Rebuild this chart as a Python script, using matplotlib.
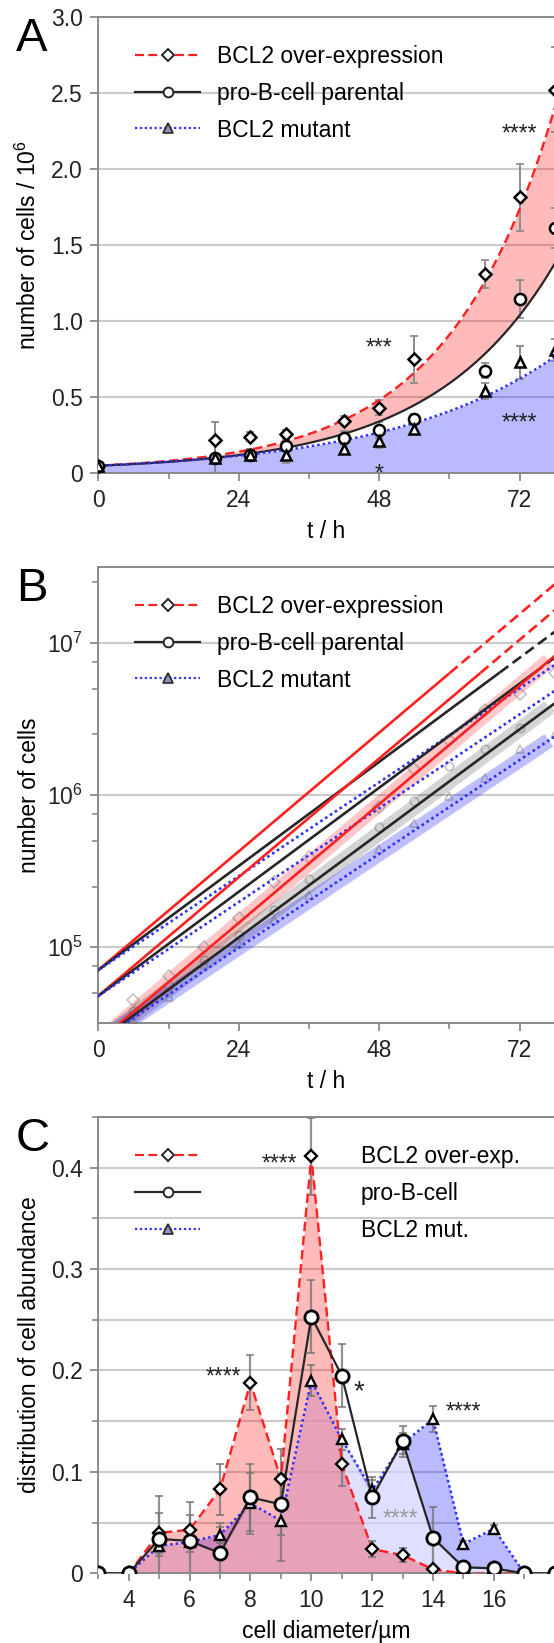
import numpy as np
import matplotlib
matplotlib.use('Agg')
import matplotlib.pyplot as plt
from matplotlib.lines import Line2D
from matplotlib.ticker import FixedLocator, FuncFormatter, LogLocator, NullFormatter

plt.rcParams['font.family'] = ['Liberation Sans', 'DejaVu Sans']
plt.rcParams['mathtext.fontset'] = 'custom'
plt.rcParams['mathtext.rm'] = 'Liberation Sans'
plt.rcParams['mathtext.it'] = 'Liberation Sans:italic'
plt.rcParams['font.size'] = 16.5

# ---- panel A: growth curves (cells / 10^6)
t_a = [0, 20, 26, 32, 42, 48, 54, 66, 72, 78]
over_a = [0.05, 0.22, 0.24, 0.255, 0.345, 0.43, 0.75, 1.31, 1.815, 2.52]
over_a_err = [0.01, 0.12, 0.03, 0.03, 0.03, 0.05, 0.155, 0.09, 0.22, 0.28]
parental_a = [0.05, 0.10, 0.12, 0.18, 0.235, 0.284, 0.357, 0.674, 1.145, 1.61]
parental_a_err = [0.005, 0.10, 0.04, 0.03, 0.04, 0.05, 0.03, 0.05, 0.125, 0.13]
mutant_a = [0.05, 0.10, 0.12, 0.12, 0.158, 0.214, 0.289, 0.541, 0.729, 0.81]
mutant_a_err = [0.005, 0.02, 0.04, 0.055, 0.03, 0.05, 0.04, 0.05, 0.11, 0.07]
# fit N = a*exp(k t) + b
fit_over_a = (0.034, 0.0545, 0.016)
fit_parental_a = (0.0322, 0.048, 0.0178)
fit_mutant_a = (0.05, 0.035, 0.0)

# ---- panel B: log-linear fits (log10 cells per h) and three start levels
rate_b = {'over': 0.0325, 'parental': 0.0285, 'mutant': 0.0257}
start_b = [4.85, 4.68, 4.38]
t_b = [6, 12, 18, 24, 30, 36, 48, 54, 60, 66, 72, 78]
over_b = [4.5e4, 6.5e4, 1.0e5, 1.55e5, 2.7e5, 3.9e5, 8.3e5, 1.48e6, 2.3e6, 3.6e6, 4.6e6, 6.3e6]
parental_b = [3.8e4, 5.6e4, 8.3e4, 1.2e5, 1.75e5, 2.8e5, 6.2e5, 9.1e5, 1.55e6, 2.0e6, 2.75e6, 3.8e6]
mutant_b = [3.3e4, 4.7e4, 7.7e4, 1.05e5, 1.5e5, 2.2e5, 4.4e5, 6.5e5, 9.8e5, 1.3e6, 2.0e6, 2.5e6]

# ---- panel C: size distribution
d_c = [3, 4, 5, 6, 7, 8, 9, 10, 11, 12, 13, 14, 15, 16, 17, 18]
over_c = [0, 0, 0.040, 0.043, 0.083, 0.188, 0.093, 0.411, 0.108, 0.024, 0.018, 0.004, 0, 0, 0, 0]
over_c_err = [0, 0, 0.02, 0.015, 0.025, 0.027, 0.03, 0.038, 0.022, 0.008, 0.007, 0.003, 0.002, 0.001, 0, 0]
parental_c = [0, 0, 0.034, 0.032, 0.020, 0.075, 0.068, 0.253, 0.195, 0.075, 0.130, 0.035, 0.006, 0.005, 0, 0]
parental_c_err = [0, 0, 0.042, 0.038, 0.03, 0.033, 0.03, 0.036, 0.031, 0.02, 0.015, 0.03, 0.003, 0.003, 0, 0]
mutant_c = [0, 0, 0.027, 0.031, 0.038, 0.069, 0.052, 0.190, 0.132, 0.082, 0.128, 0.152, 0.029, 0.044, 0, 0]
mutant_c_err = [0, 0, 0.01, 0.01, 0.008, 0.03, 0.04, 0.015, 0.01, 0.01, 0.01, 0.013, 0.003, 0.004, 0, 0]

RED = '#ff2020'
BLK = '#262626'
BLU = '#3030ff'
GRID = '#cbcbcb'
SPINE = '#8a8a8a'
ERR = '#8c8c8c'
DASH = (0, (4, 2))
DOT = (0, (1, 1.2))

W_PX, H_PX = 554, 1643
fig = plt.figure(figsize=(W_PX / 100, H_PX / 100), dpi=100)
left = 98.3 / W_PX
width = 456.5 / W_PX
height = 456.6 / H_PX
axA = fig.add_axes([left, (H_PX - 473.3) / H_PX, width, height])
axB = fig.add_axes([left, (H_PX - 1023.3) / H_PX, width, height])
axC = fig.add_axes([left, (H_PX - 1573.4) / H_PX, width, height])


def style(ax):
    for s in ax.spines.values():
        s.set_color(SPINE)
        s.set_linewidth(1.4)
    ax.tick_params(which='major', direction='out', length=6, width=1.3, color=SPINE,
                   labelsize=16.5, labelcolor='#222222', pad=5)
    ax.tick_params(which='minor', direction='out', length=4, width=1.2, color=SPINE)
    ax.tick_params(top=False, right=False, which='both')
    ax.set_axisbelow(True)
    ax.yaxis.set_label_coords(-0.126, 0.5)
    ax.xaxis.set_label_coords(0.5, -0.103)


def stars(ax, x, y, s, size=16.5, color='#222222'):
    ax.annotate(s, xy=(x, y), xytext=(0, -0.58 * size), textcoords='offset points',
                ha='center', va='baseline', fontsize=size, color=color, zorder=6)


def legend(ax, labels, textpad):
    hs = [Line2D([], [], color=RED, ls=DASH, lw=1.6, marker='D', ms=6, mfc='white', mec=BLK, mew=1.4),
          Line2D([], [], color=BLK, ls='-', lw=1.6, marker='o', ms=7, mfc='white', mec=BLK, mew=1.4),
          Line2D([], [], color=BLU, ls=DOT, lw=1.6, marker='^', ms=6.5, mfc='#9090c0', mec=BLK, mew=1.2)]
    ax.legend(hs, labels, loc='upper left', bbox_to_anchor=(0.0804, 0.939), frameon=False,
              borderpad=0, borderaxespad=0, handlelength=2.85, handletextpad=textpad,
              labelspacing=0.61, fontsize=16.5)


def points(ax, x, y, err, marker, ms, mfc='white'):
    ax.errorbar(x, y, yerr=err, fmt='none', ecolor=ERR, elinewidth=1.4, capsize=3,
                capthick=1.3, zorder=3)
    ax.plot(x, y, ls='none', marker=marker, ms=ms, mfc=mfc, mec='black', mew=1.8, zorder=5)


labels_long = ['BCL2 over-expression', 'pro-B-cell parental', 'BCL2 mutant']

# ================= A
style(axA)
tt = np.linspace(0, 78, 300)
red_fit = fit_over_a[0] * np.exp(fit_over_a[1] * tt) + fit_over_a[2]
blk_fit = fit_parental_a[0] * np.exp(fit_parental_a[1] * tt) + fit_parental_a[2]
blu_fit = fit_mutant_a[0] * np.exp(fit_mutant_a[1] * tt) + fit_mutant_a[2]
axA.fill_between(tt, blk_fit, red_fit, color='#ff0000', alpha=0.27, lw=0, zorder=1)
axA.fill_between(tt, 0, blu_fit, color='#0000ff', alpha=0.27, lw=0, zorder=1)
axA.plot(tt, red_fit, color=RED, ls=DASH, lw=1.7, zorder=4)
axA.plot(tt, blk_fit, color=BLK, lw=1.6, zorder=4)
axA.plot(tt, blu_fit, color=BLU, ls=DOT, lw=1.8, zorder=4)
points(axA, t_a, over_a, over_a_err, 'D', 6.5)
points(axA, t_a, parental_a, parental_a_err, 'o', 8)
points(axA, t_a, mutant_a, mutant_a_err, '^', 7.5)
axA.set_xlim(0, 78)
axA.set_ylim(0, 3.0)
axA.xaxis.set_major_locator(FixedLocator([0, 24, 48, 72]))
axA.xaxis.set_minor_locator(FixedLocator([12, 36, 60]))
axA.yaxis.set_major_locator(FixedLocator([0, 0.5, 1.0, 1.5, 2.0, 2.5, 3.0]))
axA.yaxis.set_major_formatter(FuncFormatter(lambda v, p: '0' if v == 0 else f'{v:.1f}'))
axA.grid(axis='y', which='major', color=GRID, lw=1.5)
axA.set_xlabel('t / h')
axA.set_ylabel('number of cells / 10$^{6}$')
stars(axA, 72, 2.275, '****')
stars(axA, 48, 0.87, '***')
stars(axA, 72, 0.372, '****')
stars(axA, 48, 0.043, '*')
legend(axA, labels_long, 0.72)

# ================= B
style(axB)
axB.set_yscale('log')
tl = np.linspace(0, 78, 400)
series_b = [('over', RED, over_b, 'D'), ('parental', BLK, parental_b, 'o'), ('mutant', BLU, mutant_b, '^')]
band_colors = {'over': ('#ff0000', 0.22), 'parental': ('#000000', 0.17), 'mutant': ('#0000ff', 0.25)}
for gi, s0 in enumerate(start_b):
    for key, col, vals, mk in series_b:
        logn = s0 + rate_b[key] * tl
        n = 10 ** logn
        if key == 'mutant':
            axB.plot(tl, n, color=col, ls=DOT, lw=1.9, zorder=4)
        elif gi == 2:
            axB.plot(tl, n, color=col, lw=1.9, zorder=4)
        else:
            solid = logn <= 6.8
            axB.plot(tl[solid], n[solid], color=col, lw=1.9, zorder=4)
            axB.plot(tl[~solid], n[~solid], color=col, ls=DASH, lw=1.9, zorder=4)
        if gi == 2:
            bc, ba = band_colors[key]
            tb = np.linspace(0, 77, 50)
            axB.plot(tb, 10 ** (s0 + rate_b[key] * tb), color=bc, alpha=ba, lw=11,
                     solid_capstyle='butt', zorder=2)
for key, col, vals, mk in series_b:
    axB.plot(t_b, vals, ls='none', marker=mk, ms=6, mfc='none', mec='#555555', mew=1.2,
             alpha=0.35, zorder=3)
axB.set_xlim(0, 78)
axB.set_ylim(10 ** 4.5, 10 ** 7.5)
axB.xaxis.set_major_locator(FixedLocator([0, 24, 48, 72]))
axB.xaxis.set_minor_locator(FixedLocator([12, 36, 60]))
axB.yaxis.set_major_locator(LogLocator(base=10))
axB.yaxis.set_minor_locator(LogLocator(base=10, subs=(2.5, 5, 7.5)))
axB.yaxis.set_minor_formatter(NullFormatter())
axB.grid(axis='y', which='major', color=GRID, lw=1.5)
axB.set_xlabel('t / h')
axB.set_ylabel('number of cells')
legend(axB, labels_long, 0.72)

# ================= C
style(axC)
dc = np.array(d_c, dtype=float)
oc = np.array(over_c)
pc = np.array(parental_c)
mc = np.array(mutant_c)
axC.fill_between(dc, 0, mc, color='#0000ff', alpha=0.27, lw=0, zorder=1)
axC.fill_between(dc, 0, np.minimum(pc, mc), color='white', alpha=0.55, lw=0, zorder=1.1)
axC.fill_between(dc, 0, oc, color='#ff0000', alpha=0.27, lw=0, zorder=1.2)
for vals, errs in ((over_c, over_c_err), (parental_c, parental_c_err), (mutant_c, mutant_c_err)):
    axC.errorbar(d_c, vals, yerr=errs, fmt='none', ecolor='#777777', alpha=0.8,
                 elinewidth=1.6, capsize=3, capthick=1.4, zorder=2)
axC.plot(d_c, over_c, color=RED, ls=DASH, lw=1.7, zorder=3)
axC.plot(d_c, mutant_c, color=BLU, ls=DOT, lw=1.8, zorder=3)
axC.plot(d_c, parental_c, color=BLK, lw=1.6, zorder=3)
axC.plot(d_c, over_c, ls='none', marker='D', ms=6.5, mfc='white', mec='black', mew=1.7, zorder=5)
axC.plot(d_c, mutant_c, ls='none', marker='^', ms=7.5, mfc='white', mec='black', mew=1.7, zorder=5)
axC.plot(d_c, parental_c, ls='none', marker='o', ms=9.5, mfc='white', mec='black', mew=2.0, zorder=5)
axC.set_xlim(3, 18)
axC.set_ylim(0, 0.45)
axC.xaxis.set_major_locator(FixedLocator([4, 6, 8, 10, 12, 14, 16]))
axC.xaxis.set_minor_locator(FixedLocator([3, 5, 7, 9, 11, 13, 15, 17]))
axC.yaxis.set_major_locator(FixedLocator([0, 0.1, 0.2, 0.3, 0.4]))
axC.yaxis.set_minor_locator(FixedLocator([0.05, 0.15, 0.25, 0.35, 0.45]))
axC.yaxis.set_major_formatter(FuncFormatter(lambda v, p: '0' if v == 0 else f'{v:.1f}'))
axC.grid(axis='y', which='both', color=GRID, lw=1.5)
axC.set_xlabel('cell diameter/µm')
axC.set_ylabel('distribution of cell abundance')
stars(axC, 8.96, 0.41, '****')
stars(axC, 7.1, 0.200, '****')
stars(axC, 11.57, 0.188, '*', size=20)
stars(axC, 15.0, 0.166, '****')
stars(axC, 12.93, 0.0607, '****', color='#9a9a9a')
legend(axC, ['BCL2 over-exp.', 'pro-B-cell', 'BCL2 mut.'], 7.0)

# panel letters
for letter, top in (('A', 16.7), ('B', 566.7), ('C', 1116.7)):
    fig.text(16 / W_PX, 1 - (top + 34) / H_PX, letter, fontsize=34, ha='left', va='baseline')

fig.savefig('out.png', dpi=100)
